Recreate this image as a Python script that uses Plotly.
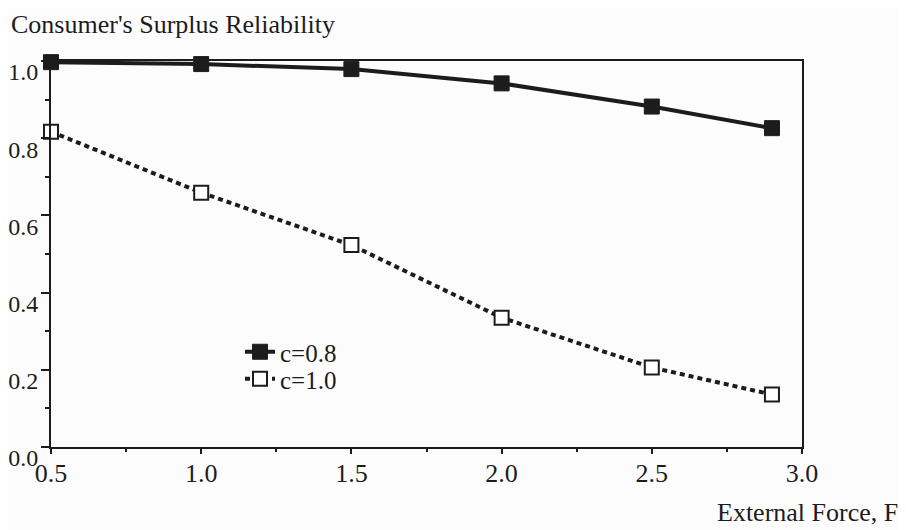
import plotly.graph_objects as go

# Data
force = [0.5, 1.0, 1.5, 2.0, 2.5, 2.9]
rel_c08 = [0.997, 0.992, 0.979, 0.942, 0.882, 0.826]
rel_c10 = [0.817, 0.659, 0.523, 0.335, 0.206, 0.136]

x_ticks = [0.5, 1.0, 1.5, 2.0, 2.5, 3.0]
x_tick_labels = ["0.5", "1.0", "1.5", "2.0", "2.5", "3.0"]
y_ticks = [0.0, 0.2, 0.4, 0.6, 0.8, 1.0]
y_tick_labels = ["0.0", "0.2", "0.4", "0.6", "0.8", "1.0"]

FONT = "Liberation Serif, Times New Roman, serif"
INK = "#1c1c1c"
BG = "#fcfcfd"

# figure is drawn 8px in from the page corner (default body margin)
W, H = 898, 522
L, T, R, B = 43, 53, 104, 83
PW, PH = W - L - R, H - T - B

fig = go.Figure()
fig.add_trace(go.Scatter(
    x=force, y=rel_c08, name="c=0.8", mode="lines+markers", legend="legend",
    line=dict(color=INK, width=4), cliponaxis=False,
    marker=dict(symbol="square", size=15, color=INK, line=dict(color=INK, width=1)),
))
fig.add_trace(go.Scatter(
    x=force, y=rel_c10, name="c=1.0", mode="lines+markers", legend="legend2",
    line=dict(color=INK, width=4, dash="5px,4px"), cliponaxis=False,
    marker=dict(symbol="square", size=14, color="white", line=dict(color=INK, width=2)),
))

leg_common = dict(xanchor="left", yanchor="middle", bgcolor="rgba(0,0,0,0)",
                  font=dict(size=25, family=FONT, color=INK))
fig.update_layout(
    width=W, height=H,
    margin=dict(l=L, r=R, t=T, b=B),
    paper_bgcolor=BG, plot_bgcolor=BG,
    font=dict(family=FONT, size=26, color=INK),
    showlegend=True,
    legend=dict(x=(232 - 43) / PW, y=(439 - 344) / PH, **leg_common),
    legend2=dict(x=(232 - 43) / PW, y=(439 - 371) / PH, **leg_common),
    title=dict(
        text="Consumer's Surplus Reliability",
        xref="container", yref="container",
        x=3 / W, xanchor="left", y=1 - 16 / H, yanchor="middle",
        font=dict(family=FONT, size=26, color=INK),
    ),
)

fig.update_xaxes(
    range=[0.5, 3.0], tickmode="array", tickvals=x_ticks, ticktext=x_tick_labels,
    showgrid=False, zeroline=False, automargin=False,
    showline=True, linecolor=INK, linewidth=2, mirror=True,
    ticks="outside", ticklen=5, tickwidth=2, tickcolor=INK,
    minor=dict(dtick=0.25, ticks="outside", ticklen=3, tickwidth=2, tickcolor=INK, showgrid=False),
    ticklabelstandoff=-3, tickfont=dict(size=26),
)
fig.update_yaxes(
    range=[0.0, 1.0], tickmode="array", tickvals=y_ticks, ticktext=y_tick_labels,
    showgrid=False, zeroline=False, automargin=False,
    showline=True, linecolor=INK, linewidth=2, mirror=True,
    ticks="outside", ticklen=8, tickwidth=2, tickcolor=INK,
    minor=dict(dtick=0.1, ticks="outside", ticklen=4, tickwidth=2, tickcolor=INK, showgrid=False),
    ticklabelshift=11, ticklabelstandoff=-2, tickfont=dict(size=24),
)

fig.add_annotation(
    text="External Force, F", xref="paper", yref="paper",
    x=(892 - 43) / PW, y=(439 - 504) / PH, xanchor="right", yanchor="middle",
    showarrow=False, font=dict(family=FONT, size=26, color=INK),
)

fig.write_html("out.html")
